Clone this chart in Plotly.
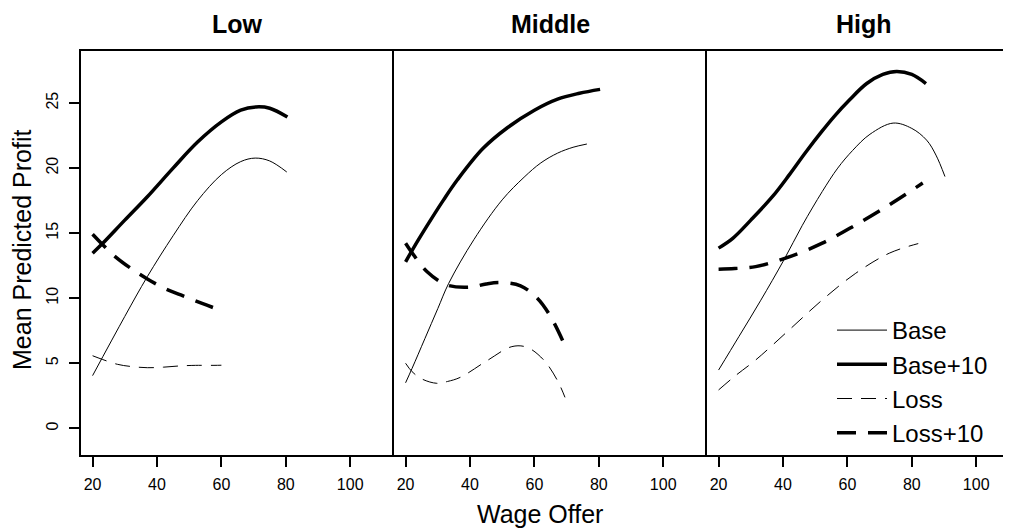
import plotly.graph_objects as go

# ---------------- data ----------------
panels = ["Low", "Middle", "High"]
series_names = ["Base", "Base+10", "Loss", "Loss+10"]

x_ticks = [20, 40, 60, 80, 100]
y_ticks = [0, 5, 10, 15, 20, 25]

# Low
base_low_x = [20, 30, 37, 45, 52.6, 60, 66, 70.5, 75, 80.3]
base_low_y = [4.05, 8.6, 11.66, 14.8, 17.5, 19.5, 20.5, 20.77, 20.55, 19.7]
base10_low_x = [20, 23, 30, 37, 45, 52.6, 60, 66, 70.7, 75, 80.5]
base10_low_y = [13.46, 14.18, 16.0, 17.8, 20.0, 22.0, 23.55, 24.45, 24.7, 24.6, 23.92]
loss_low_x = [20, 23, 27.7, 32, 37, 42, 47.4, 52, 57.7, 60]
loss_low_y = [5.58, 5.3, 4.92, 4.75, 4.66, 4.7, 4.8, 4.84, 4.84, 4.85]
loss10_low_x = [20, 23, 27, 32.9, 37, 42, 47.4, 54, 60.3]
loss10_low_y = [14.92, 14.15, 13.2, 12.12, 11.48, 10.8, 10.25, 9.6, 9.02]

# Middle
base_mid_x = [20, 22, 26, 30, 33.4, 41.2, 50, 56.8, 62, 67.2, 72, 76.3]
base_mid_y = [3.5, 4.6, 6.9, 9.2, 11.15, 14.5, 17.56, 19.3, 20.4, 21.15, 21.6, 21.85]
base10_mid_x = [20, 24, 28, 31.8, 36.1, 44, 51.6, 60, 67.2, 74, 80.4]
base10_mid_y = [12.8, 14.5, 16.1, 17.56, 19.1, 21.5, 23.1, 24.45, 25.3, 25.75, 26.05]
loss_mid_x = [20, 22, 25, 29.7, 33, 37, 45.3, 53, 57.7, 62.9, 67.1, 69.5]
loss_mid_y = [5.0, 4.36, 3.8, 3.46, 3.6, 3.92, 5.2, 6.28, 6.23, 5.25, 3.7, 2.38]
loss10_mid_x = [20, 22, 26.6, 32.8, 40.1, 45, 49.5, 55.7, 60.9, 65, 69.4]
loss10_mid_y = [14.23, 13.5, 12.05, 11.02, 10.85, 11.1, 11.2, 10.95, 10.0, 8.6, 6.4]

# High
base_high_x = [20, 26.3, 33, 40.3, 46, 52.2, 57, 61.6, 67, 74.2, 80, 84.6, 87.5, 90.3]
base_high_y = [4.48, 7.05, 9.8, 12.95, 15.6, 18.2, 20.0, 21.35, 22.6, 23.46, 23.05, 22.15, 21.0, 19.35]
base10_high_x = [20, 24.4, 30, 36.7, 42, 47, 52, 56, 60.7, 66, 71, 75.3, 80, 84.4]
base10_high_y = [13.85, 14.6, 16.0, 17.8, 19.5, 21.2, 22.8, 24.0, 25.25, 26.5, 27.2, 27.43, 27.2, 26.5]
loss_high_x = [20, 25, 31.5, 41.9, 52.2, 62.6, 73, 82]
loss_high_y = [2.95, 4.0, 5.25, 7.56, 9.87, 11.92, 13.46, 14.2]
loss10_high_x = [20, 25, 31.5, 40.8, 52.2, 62.6, 73, 83.4]
loss10_high_y = [12.23, 12.28, 12.43, 13.08, 14.23, 15.64, 17.18, 18.85]

panel_data = [
    [(base_low_x, base_low_y), (base10_low_x, base10_low_y),
     (loss_low_x, loss_low_y), (loss10_low_x, loss10_low_y)],
    [(base_mid_x, base_mid_y), (base10_mid_x, base10_mid_y),
     (loss_mid_x, loss_mid_y), (loss10_mid_x, loss10_mid_y)],
    [(base_high_x, base_high_y), (base10_high_x, base10_high_y),
     (loss_high_x, loss_high_y), (loss10_high_x, loss10_high_y)],
]

# ---------------- styles / layout ----------------
FONT = "Liberation Sans, Arial, Helvetica, sans-serif"
styles = [
    dict(width=1.0, dash="solid"),
    dict(width=3.5, dash="solid"),
    dict(width=1.0, dash="15px,9px"),
    dict(width=3.5, dash="19px,12px"),
]

OFF = 8                      # page body margin offset
W, H = 1011 - OFF, 532 - OFF
ML, MR, MT, MB = 81 - OFF, 0, 51 - OFF, 77
PW = W - ML - MR
PH = H - MT - MB


def pgx(px):
    return (px - OFF - ML) / PW


def pgy(py):
    return (MT + PH - (py - OFF)) / PH


panel_px = 313
domains = [[0, panel_px / PW], [panel_px / PW, 2 * panel_px / PW], [2 * panel_px / PW, 1.0]]
px_per_unit = panel_px / (113.6 - 16.4)
x_ranges = [[16.4, 113.6], [16.4, 113.6],
            [16.4, 16.4 + (PW - 2 * panel_px) / px_per_unit]]
y_range = [-2.05, 29.0]

fig = go.Figure()
for p, pdata in enumerate(panel_data):
    xa = "x" if p == 0 else f"x{p+1}"
    ya = "y" if p == 0 else f"y{p+1}"
    for s, (xs, ys) in enumerate(pdata):
        fig.add_trace(go.Scatter(
            x=xs, y=ys, mode="lines", name=series_names[s],
            line=dict(color="black", shape="spline", smoothing=1.0, **styles[s]),
            xaxis=xa, yaxis=ya, showlegend=(p == 0),
            hoverinfo="skip",
        ))

axis_common = dict(showgrid=False, zeroline=False, showline=True, linecolor="black",
                   linewidth=1.8)
layout = dict(
    width=W, height=H,
    margin=dict(l=ML, r=MR, t=MT, b=MB, pad=0),
    paper_bgcolor="white", plot_bgcolor="white",
    font=dict(family=FONT, color="black"),
    showlegend=True,
    legend=dict(x=pgx(832), y=pgy(308), xanchor="left", yanchor="top",
                font=dict(size=24, family=FONT, color="black"),
                bgcolor="rgba(0,0,0,0)", tracegroupgap=0, itemwidth=50),
)
for p in range(3):
    xk = "xaxis" if p == 0 else f"xaxis{p+1}"
    yk = "yaxis" if p == 0 else f"yaxis{p+1}"
    layout[xk] = dict(axis_common, domain=domains[p], range=x_ranges[p],
                      anchor="y" if p == 0 else f"y{p+1}", mirror=True,
                      tickmode="array", tickvals=x_ticks,
                      ticktext=[str(v) for v in x_ticks],
                      ticks="outside", ticklen=10, tickwidth=1.8, tickcolor="black",
                      tickfont=dict(size=16, family=FONT, color="black"),
                      ticklabelstandoff=4)
    ycfg = dict(axis_common, domain=[0, 1], range=y_range,
                anchor="x" if p == 0 else f"x{p+1}", mirror=False)
    if p == 0:
        ycfg.update(tickmode="array", tickvals=y_ticks,
                    ticktext=[str(v) for v in y_ticks],
                    ticks="outside", ticklen=10, tickwidth=1.8, tickcolor="black",
                    tickangle=-90, tickfont=dict(size=16, family=FONT, color="black"),
                    ticklabelstandoff=5)
    else:
        ycfg.update(showticklabels=False, ticks="")
    layout[yk] = ycfg

annotations = []
for p, name in enumerate(panels):
    cx = (domains[p][0] + (domains[p][0] + panel_px / PW)) / 2
    annotations.append(dict(text=f"<b>{name}</b>", x=cx, y=pgy(24),
                            xref="paper", yref="paper", showarrow=False,
                            xanchor="center", yanchor="middle",
                            font=dict(size=25, family=FONT, color="black")))
annotations.append(dict(text="Wage Offer", x=pgx(540), y=pgy(514),
                        xref="paper", yref="paper", showarrow=False,
                        xanchor="center", yanchor="middle",
                        font=dict(size=25, family=FONT, color="black")))
annotations.append(dict(text="Mean Predicted Profit", x=pgx(22), y=pgy(250),
                        xref="paper", yref="paper", showarrow=False, textangle=-90,
                        xanchor="center", yanchor="middle",
                        font=dict(size=25, family=FONT, color="black")))
layout["annotations"] = annotations

fig.update_layout(**layout)
fig.write_html("out.html")
